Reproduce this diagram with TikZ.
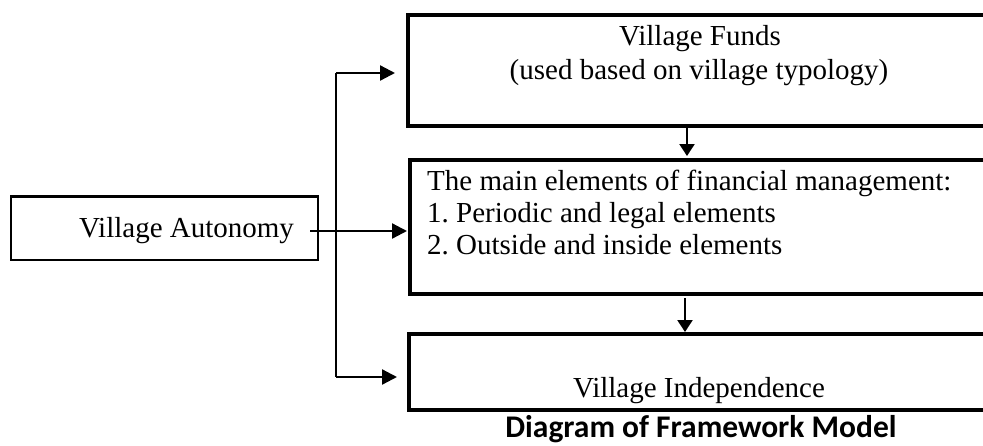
\documentclass[tikz,border=0pt]{standalone}
\usepackage{fontspec}
\setmainfont{Liberation Serif}
\newfontfamily\capfont{Carlito}
\usetikzlibrary{arrows.meta}
\begin{document}
\frenchspacing
\begin{tikzpicture}[x=1pt,y=-1pt,
  thickbox/.style={draw,line width=4pt,rectangle,inner sep=0pt,outer sep=0pt},
  thinbox/.style={draw,line width=2.6pt,rectangle,inner sep=0pt,outer sep=0pt},
  lbl/.style={inner sep=0pt,font=\fontsize{29}{33}\selectfont},
  conn/.style={line width=2.3pt},
  arr/.style={line width=2.3pt,-{Triangle[length=15pt,width=15pt]}},
  darr/.style={line width=2.3pt,-{Triangle[length=12pt,width=15pt]}}]
\useasboundingbox (0,0) rectangle (983,445);
\clip (0,0) rectangle (983,445);
% boxes
\node[thinbox,minimum width=307pt,minimum height=63.5pt] (auto) at (164.5,228.25) {};
\node[thickbox,minimum width=585.5pt,minimum height=110.7pt] (funds) at (700.25,70.65) {};
\node[thickbox,minimum width=583pt,minimum height=134pt] (mainb) at (701.5,227) {};
\node[thickbox,minimum width=584pt,minimum height=76pt] (indep) at (701,372) {};
% texts
\node[lbl,anchor=base] (ta) at (186.5,237) {Village Autonomy};
\node[lbl,anchor=base] (tf1) at (700,45) {Village Funds};
\node[lbl,anchor=base] (tf2) at (699,79) {(used based on village typology)};
\node[lbl,anchor=base west] (tm1) at (427,190) {The main elements of financial management:};
\node[lbl,anchor=base west] (tm2) at (427,222) {1. Periodic and legal elements};
\node[lbl,anchor=base west] (tm3) at (427,254) {2. Outside and inside elements};
\node[lbl,anchor=base] (ti) at (699,397) {Village Independence};
\node[inner sep=0pt,anchor=base,font=\capfont\bfseries\fontsize{31.5}{36}\selectfont] (cap) at (701,437) {Diagram of Framework Model};
% connectors
\coordinate (s) at (310,231);
\coordinate (jt) at (336,73);
\coordinate (jb) at (336,377);
\coordinate (a1) at (687,0);
\coordinate (a2) at (685,0);
\draw[arr,shorten >=3pt] (s) -- (s -| mainb.west);
\draw[conn] (jt) -- (jb);
\draw[arr,shorten >=12.5pt] (jt) -- (jt -| funds.west);
\draw[arr,shorten >=12pt] (jb) -- (jb -| indep.west);
\draw[darr] (funds.south -| a1) -- ([yshift=4pt]mainb.north -| a1);
\draw[darr] ([yshift=-4pt]mainb.south -| a2) -- ([yshift=2pt]indep.north -| a2);
\end{tikzpicture}
\end{document}
